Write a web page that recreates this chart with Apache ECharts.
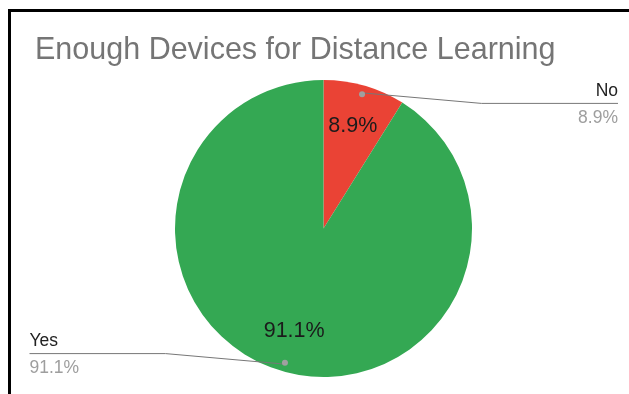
<!DOCTYPE html>
<html>
<head>
<meta charset="utf-8">
<script src="https://cdn.jsdelivr.net/npm/echarts@6/dist/echarts.min.js"></script>
<style>
  html, body { margin: 0; padding: 0; background: #fff; }
  #wrap { position: relative; width: 629px; height: 394px; overflow: hidden; }
  #chart { width: 629px; height: 394px; }
  /* dark frame along the top and left edges */
  #frame {
    position: absolute; left: 8px; top: 9px; width: 800px; height: 600px;
    border-top: 3px solid #000; border-left: 3px solid #000; pointer-events: none;
  }
</style>
</head>
<body>
<div id="wrap"><div id="chart"></div><div id="frame"></div></div>
<script>
// ---- data ----
const titleText = 'Enough Devices for Distance Learning';
const categories = ['No', 'Yes'];
const shares = [8.9, 91.1];
const sliceColors = ['#EA4335', '#34A853'];

// ---- layout ----
const FONT = '"Liberation Sans", Arial, sans-serif';
const CX = 323.5, CY = 228.5, R = 148.5;
const DOT_FRAC = 0.95;          // leader lines start at this fraction of the radius
const LEADER_DX = 119, LEADER_DY = 10.5;
const EDGE_LEFT = 29.5, EDGE_RIGHT = 11;

const chart = echarts.init(document.getElementById('chart'), null, { renderer: 'canvas' });
const W = chart.getWidth();

const total = shares.reduce((a, b) => a + b, 0);
// mid angle (radians, math convention) of each slice, clockwise from 12 o'clock
function midAngle(idx) {
  let before = 0;
  for (let i = 0; i < idx; i++) before += shares[i];
  const frac = (before + shares[idx] / 2) / total;
  return Math.PI / 2 - frac * Math.PI * 2;
}

const sliceData = categories.map((name, i) => ({ name, value: shares[i], itemStyle: { color: sliceColors[i] } }));
const ghostData = categories.map((name, i) => ({ name, value: shares[i] }));
const ghostStyle = { color: 'rgba(0,0,0,0)', borderWidth: 0 };

const option = {
  animation: false,
  backgroundColor: '#fff',
  title: {
    text: titleText,
    left: 30,
    top: 30,
    textStyle: { fontFamily: FONT, fontSize: 30.5, fontWeight: 'normal', color: '#757575' }
  },
  series: [
    {
      // coloured slices
      type: 'pie', center: [CX, CY], radius: R, startAngle: 90, clockwise: true,
      data: sliceData, silent: true,
      label: { show: false }, labelLine: { show: false }
    },
    {
      // percentages printed inside the slices
      type: 'pie', center: [CX, CY], radius: [R * 0.39, R], startAngle: 90,
      data: ghostData, silent: true, itemStyle: ghostStyle, percentPrecision: 1,
      label: {
        show: true, position: 'inside', formatter: '{d}%',
        fontFamily: FONT, fontSize: 21.5, color: '#1b1b1b'
      },
      labelLine: { show: false }
    },
    {
      // small markers where the leader lines begin
      type: 'pie', center: [CX, CY], radius: [R * (DOT_FRAC - 0.05), R * (DOT_FRAC - 0.01)], startAngle: 90,
      data: ghostData, silent: true, itemStyle: ghostStyle, z: 4,
      label: {
        show: true, position: 'inside', formatter: '{dot|}',
        rich: { dot: { width: 6, height: 6, borderRadius: 3, backgroundColor: '#a0a0a0' } }
      },
      labelLine: { show: false }
    },
    {
      // outside name / percentage labels with leader lines
      type: 'pie', center: [CX, CY], radius: R * DOT_FRAC, startAngle: 90,
      data: ghostData, silent: true, itemStyle: ghostStyle, percentPrecision: 1, z: 3,
      label: {
        show: true, position: 'outside',
        formatter: p => `{name|${p.name}}\n{pct|${p.percent}%}`,
        fontFamily: FONT,
        rich: {
          name: { fontFamily: FONT, fontSize: 17.5, color: '#222', lineHeight: 25 },
          pct: { fontFamily: FONT, fontSize: 17.5, color: '#9e9e9e', lineHeight: 29 }
        }
      },
      labelLine: { show: true, length: 10, length2: 10, lineStyle: { color: '#777', width: 1 } },
      labelLayout: function (params) {
        const a = midAngle(params.dataIndex);
        const sx = CX + Math.cos(a) * R * DOT_FRAC;
        const sy = CY - Math.sin(a) * R * DOT_FRAC;
        const side = sx >= CX ? 1 : -1;
        const bx = sx + side * LEADER_DX;
        const by = sy + side * LEADER_DY;
        const ex = side > 0 ? W - EDGE_RIGHT : EDGE_LEFT;
        return {
          x: ex, y: by - 25,
          align: side > 0 ? 'right' : 'left',
          verticalAlign: 'top',
          labelLinePoints: [[sx, sy], [bx, by], [ex, by]]
        };
      }
    }
  ]
};

chart.setOption(option);
</script>
</body>
</html>
